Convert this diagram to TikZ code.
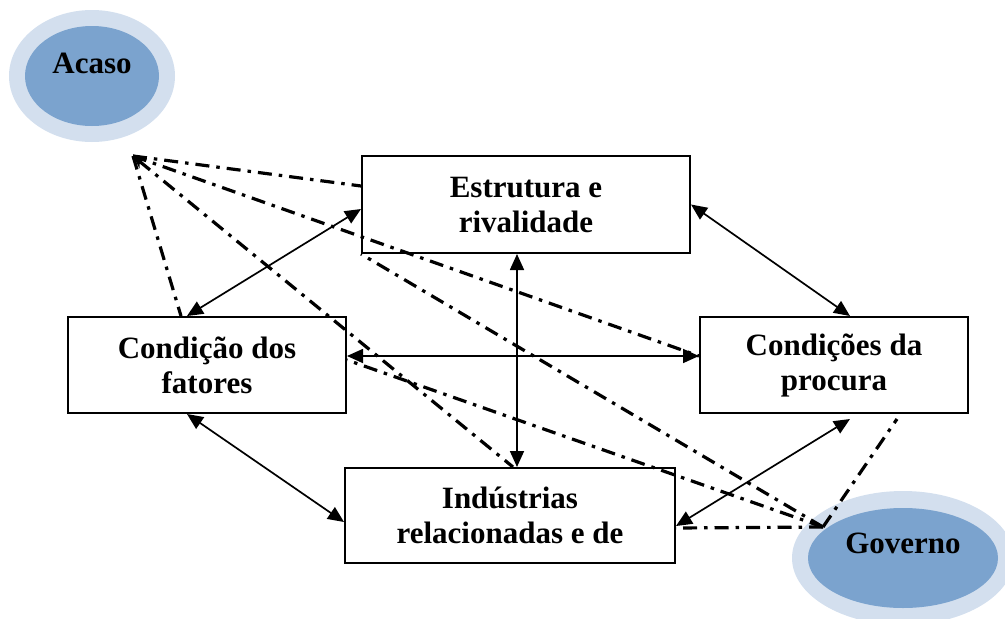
\documentclass[tikz,border=0pt]{standalone}
\usepackage{fontspec}
\setmainfont{Liberation Serif}
\usetikzlibrary{arrows.meta,shapes.geometric,calc}
\definecolor{ringblue}{RGB}{211,223,238}
\definecolor{coreblue}{RGB}{123,163,206}
\begin{document}
\begin{tikzpicture}[x=1pt,y=-1pt,
  box/.style={draw,line width=2pt,rectangle,inner sep=0pt,align=center,font=\bfseries\fontsize{31}{35}\selectfont},
  ring/.style={ellipse,fill=ringblue,inner sep=0pt},
  core/.style={ellipse,fill=coreblue,inner sep=0pt},
  lbl/.style={font=\bfseries\fontsize{31}{35}\selectfont,inner sep=0pt},
  link/.style={line width=1.7pt,{Triangle[length=16pt,width=14pt]}-{Triangle[length=16pt,width=14pt]}},
  infl/.style={line width=3.2pt,dash pattern=on 14pt off 7pt on 3.5pt off 7pt}
]
\useasboundingbox (0,0) rectangle (1005,619);

% chance and government
\node[ring,minimum width=166pt,minimum height=132pt] (acasoring) at (92,76) {};
\node[core,minimum width=134pt,minimum height=100pt] (acaso) at (92,76) {};
\node[lbl] (acasotxt) at (92,63) {Acaso};

\begin{scope}
\clip (0,0) rectangle (1005,619);
\node[ring,minimum width=222pt,minimum height=134pt] (govring) at (903,558) {};
\node[core,minimum width=190pt,minimum height=100pt] (gov) at (903,558) {};
\end{scope}

% boxes
\node[box,minimum width=328pt,minimum height=97pt] (est) at (526,204.5) {Estrutura e\\rivalidade};
\node[box,minimum width=278pt,minimum height=96pt] (cond) at (207,365) {Condição dos\\fatores};
\node[box,minimum width=268pt,minimum height=96pt] (proc) at (834,365) {Condições da\\procura};
\node[box,minimum width=330pt,minimum height=95pt] (ind) at (510,515.5) {Indústrias\\relacionadas e de};

% solid two-way links
\draw[link] ([xshift=120pt]cond.north west) -- ([yshift=-4.5pt]est.west);
\draw[link] (est.east) -- ([xshift=16pt]proc.north);
\draw[link] ([xshift=-9pt]est.south) -- ([xshift=-9pt]est.south |- ind.north);
\draw[link] ([yshift=9pt]cond.east) -- ([yshift=9pt]proc.west);
\draw[link] ([xshift=120pt]cond.south west) -- ([yshift=-6.5pt]ind.west);
\draw[link] ([xshift=16pt,yshift=-5pt]proc.south) -- ([yshift=-10.5pt]ind.east);

% influence of chance
\coordinate (acasohub) at (133,156);
\draw[infl] (acasohub) -- ([yshift=18.5pt]est.west);
\draw[infl] (acasohub) -- ([yshift=9pt]proc.west);
\draw[infl,{Stealth[length=13pt,width=11pt]}-] (acasohub) -- ([xshift=3pt]ind.north);
\draw[infl] (acasohub) -- ([xshift=114pt]cond.north west);

% influence of government
\coordinate (govhub) at (823,527);
\draw[infl] (govhub) -- (est.south west);
\draw[infl] (govhub) -- ([yshift=5pt]cond.east);
\draw[infl] (govhub) -- ([yshift=-12.5pt]ind.east);
\draw[infl] (govhub) -- ([xshift=63pt,yshift=-5pt]proc.south);

\node[lbl] (govtxt) at (903,543) {Governo};
\end{tikzpicture}
\end{document}
